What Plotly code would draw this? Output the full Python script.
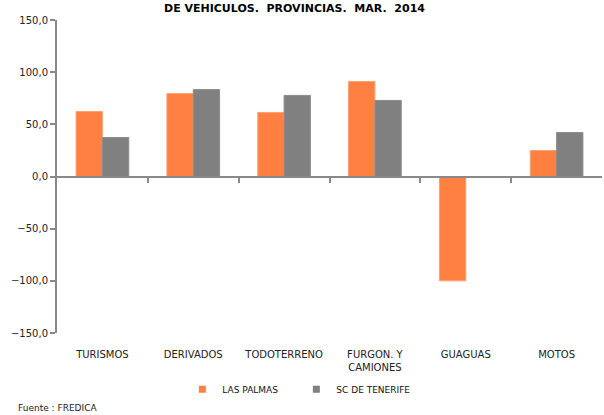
import plotly.graph_objects as go

categories = ["TURISMOS", "DERIVADOS", "TODOTERRENO", "FURGON. Y<br>CAMIONES", "GUAGUAS", "MOTOS"]
las_palmas = [62.3, 79.5, 61.4, 91.0, -100.0, 24.9]
sc_tenerife = [37.4, 83.3, 77.7, 72.9, 0.0, 42.2]
y_ticks = [-150, -100, -50, 0, 50, 100, 150]
series_names = ["LAS PALMAS", "SC DE TENERIFE"]
series_colors = ["#FF8040", "#808080"]

x_idx = list(range(len(categories)))

fig = go.Figure()
fig.add_trace(go.Bar(x=x_idx, y=las_palmas, name=series_names[0], marker_color=series_colors[0],
                     marker_line=dict(color="#FFA070", width=1), showlegend=False))
fig.add_trace(go.Bar(x=x_idx, y=sc_tenerife, name=series_names[1], marker_color=series_colors[1],
                     marker_line=dict(color="#8C8C8C", width=1), showlegend=False))
# legend-only entries with small square swatches
for nm, col in zip(series_names, series_colors):
    fig.add_trace(go.Scatter(x=[None], y=[None], mode="markers", name=nm,
                             marker=dict(symbol="square", size=7, color=col)))

fig.update_layout(
    width=604, height=415,
    margin=dict(l=57, r=2, t=20, b=82, autoexpand=False),
    paper_bgcolor="white", plot_bgcolor="white",
    separators=",.",
    barmode="group", bargap=0.42, bargroupgap=0,
    font=dict(family="DejaVu Sans", size=10, color="#222222"),
    showlegend=True,
    legend=dict(orientation="h", x=0.23, xanchor="left", y=-0.18, yanchor="middle",
                font=dict(size=9, color="#111111"), itemwidth=30, entrywidth=69,
                entrywidthmode="pixels", traceorder="normal"),
    xaxis=dict(tickmode="array", tickvals=x_idx, ticktext=categories, automargin=False,
               range=[-0.5, 5.5], showline=False, ticks="", showgrid=False, zeroline=False,
               ticklabelstandoff=14),
    xaxis2=dict(overlaying="x", matches="x", anchor="free", position=0.5, side="bottom",
                range=[-0.5, 5.5], tickmode="array", tickvals=[i + 0.5 for i in x_idx[:-1]],
                showticklabels=False, ticks="outside", ticklen=5, tickwidth=2, tickcolor="#888888",
                showline=True, linecolor="#888888", linewidth=2, showgrid=False, zeroline=False),
    yaxis=dict(range=[-150, 150], tickvals=y_ticks, tickformat=".1f", showgrid=False,
               automargin=False,
               showline=True, linecolor="#888888", linewidth=2, ticks="outside", ticklen=5,
               tickwidth=2, tickcolor="#888888", zeroline=False, tickfont=dict(size=10)),
)
# invisible trace to activate xaxis2
fig.add_trace(go.Scatter(x=[0], y=[0], xaxis="x2", mode="markers", marker=dict(opacity=0),
                         showlegend=False, hoverinfo="skip"))

fig.add_annotation(text="<b>DE VEHICULOS.  PROVINCIAS.  MAR.  2014</b>", xref="paper", yref="paper",
                   x=0.435, y=1.0, yshift=12, xanchor="center", yanchor="middle",
                   showarrow=False, font=dict(size=11, color="black"))
fig.add_annotation(text="Fuente : FREDICA", xref="paper", yref="paper", x=-0.075, y=0,
                   yshift=-82, xanchor="left", yanchor="bottom", showarrow=False,
                   font=dict(size=9, color="#222222"))

fig.write_html("out.html", config={"displayModeBar": False},
               post_script="document.body.style.margin='0';document.body.style.overflow='hidden';")
